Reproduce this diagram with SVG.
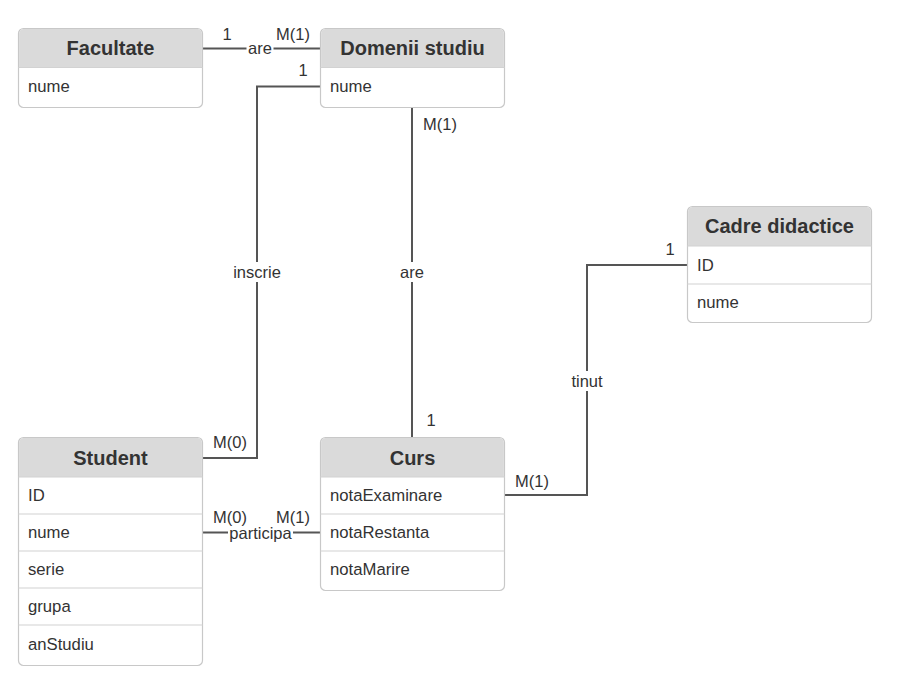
<svg xmlns="http://www.w3.org/2000/svg" width="900" height="678" viewBox="0 0 900 678">
<style>
.box{fill:#ffffff;stroke:#c8c8c8;stroke-width:1.2}
.hdr{fill:#dadada}
.sep{stroke:#d2d2d2;stroke-width:1.2}
.title{font-family:"Liberation Sans",Arial,sans-serif;font-size:20px;font-weight:bold;fill:#333;text-anchor:middle}
.attr{font-family:"Liberation Sans",Arial,sans-serif;font-size:16.7px;fill:#333}
.conn{fill:none;stroke:#555;stroke-width:2}
.lbl{font-family:"Liberation Sans",Arial,sans-serif;font-size:16.5px;fill:#333;text-anchor:middle}
.lbg{fill:#ffffff}
</style>
<rect width="900" height="678" fill="#ffffff"/>
<g id="connectors">
  <path class="conn" d="M202 48.5 H320"/>
  <path class="conn" d="M320 86.5 H257 V458 H202"/>
  <path class="conn" d="M412 107 V437"/>
  <path class="conn" d="M504 495 H587 V265 H687"/>
  <path class="conn" d="M202 532.5 H320"/>
  <rect class="lbg" x="246.5" y="40" width="27" height="17"/>
  <text class="lbl" x="260" y="54">are</text>
  <rect class="lbg" x="233" y="262" width="48" height="20"/>
  <text class="lbl" x="257" y="278">inscrie</text>
  <rect class="lbg" x="398.5" y="262" width="27" height="20"/>
  <text class="lbl" x="412" y="278">are</text>
  <rect class="lbg" x="568" y="371" width="38" height="20"/>
  <text class="lbl" x="587" y="387">tinut</text>
  <rect class="lbg" x="228" y="524" width="65" height="19"/>
  <text class="lbl" x="260.5" y="538.5">participa</text>
  <text class="lbl" x="227" y="40">1</text>
  <text class="lbl" x="293" y="40">M(1)</text>
  <text class="lbl" x="303" y="76">1</text>
  <text class="lbl" x="440" y="130">M(1)</text>
  <text class="lbl" x="431" y="426">1</text>
  <text class="lbl" x="230" y="448">M(0)</text>
  <text class="lbl" x="230" y="523">M(0)</text>
  <text class="lbl" x="293" y="523">M(1)</text>
  <text class="lbl" x="532" y="487">M(1)</text>
  <text class="lbl" x="670" y="255">1</text>
</g>
<g id="facultate">
  <rect class="box" x="18.5" y="28.5" width="184" height="79" rx="5"/>
  <path class="hdr" d="M19.1 67.5 V33.5 A4.4 4.4 0 0 1 23.5 29.1 H197.5 A4.4 4.4 0 0 1 201.9 33.5 V67.5 Z"/>
  <line class="sep" x1="18.5" y1="67.5" x2="202.5" y2="67.5"/>
  <text class="title" x="110.5" y="55">Facultate</text>
  <text class="attr" x="28" y="92">nume</text>
</g>
<g id="domenii">
  <rect class="box" x="320.5" y="28.5" width="184" height="79" rx="5"/>
  <path class="hdr" d="M321.1 67.5 V33.5 A4.4 4.4 0 0 1 325.5 29.1 H499.5 A4.4 4.4 0 0 1 503.9 33.5 V67.5 Z"/>
  <line class="sep" x1="320.5" y1="67.5" x2="504.5" y2="67.5"/>
  <text class="title" x="412.5" y="55">Domenii studiu</text>
  <text class="attr" x="330" y="92">nume</text>
</g>
<g id="cadre">
  <rect class="box" x="687.5" y="206.5" width="184" height="116" rx="5"/>
  <path class="hdr" d="M688.1 246 V211.5 A4.4 4.4 0 0 1 692.5 207.1 H866.5 A4.4 4.4 0 0 1 870.9 211.5 V246 Z"/>
  <line class="sep" x1="687.5" y1="246" x2="871.5" y2="246"/>
  <line class="sep" x1="687.5" y1="284" x2="871.5" y2="284"/>
  <text class="title" x="779.5" y="233">Cadre didactice</text>
  <text class="attr" x="697" y="271">ID</text>
  <text class="attr" x="697" y="308">nume</text>
</g>
<g id="student">
  <rect class="box" x="18.5" y="437.5" width="184" height="228" rx="5"/>
  <path class="hdr" d="M19.1 477 V442.5 A4.4 4.4 0 0 1 23.5 438.1 H197.5 A4.4 4.4 0 0 1 201.9 442.5 V477 Z"/>
  <line class="sep" x1="18.5" y1="477" x2="202.5" y2="477"/>
  <line class="sep" x1="18.5" y1="514" x2="202.5" y2="514"/>
  <line class="sep" x1="18.5" y1="551" x2="202.5" y2="551"/>
  <line class="sep" x1="18.5" y1="588" x2="202.5" y2="588"/>
  <line class="sep" x1="18.5" y1="625" x2="202.5" y2="625"/>
  <text class="title" x="110.5" y="465">Student</text>
  <text class="attr" x="28" y="501">ID</text>
  <text class="attr" x="28" y="538">nume</text>
  <text class="attr" x="28" y="575">serie</text>
  <text class="attr" x="28" y="612">grupa</text>
  <text class="attr" x="28" y="650">anStudiu</text>
</g>
<g id="curs">
  <rect class="box" x="320.5" y="437.5" width="184" height="153" rx="5"/>
  <path class="hdr" d="M321.1 477 V442.5 A4.4 4.4 0 0 1 325.5 438.1 H499.5 A4.4 4.4 0 0 1 503.9 442.5 V477 Z"/>
  <line class="sep" x1="320.5" y1="477" x2="504.5" y2="477"/>
  <line class="sep" x1="320.5" y1="514" x2="504.5" y2="514"/>
  <line class="sep" x1="320.5" y1="551" x2="504.5" y2="551"/>
  <text class="title" x="412.5" y="465">Curs</text>
  <text class="attr" x="330" y="501">notaExaminare</text>
  <text class="attr" x="330" y="538">notaRestanta</text>
  <text class="attr" x="330" y="575">notaMarire</text>
</g>
</svg>
